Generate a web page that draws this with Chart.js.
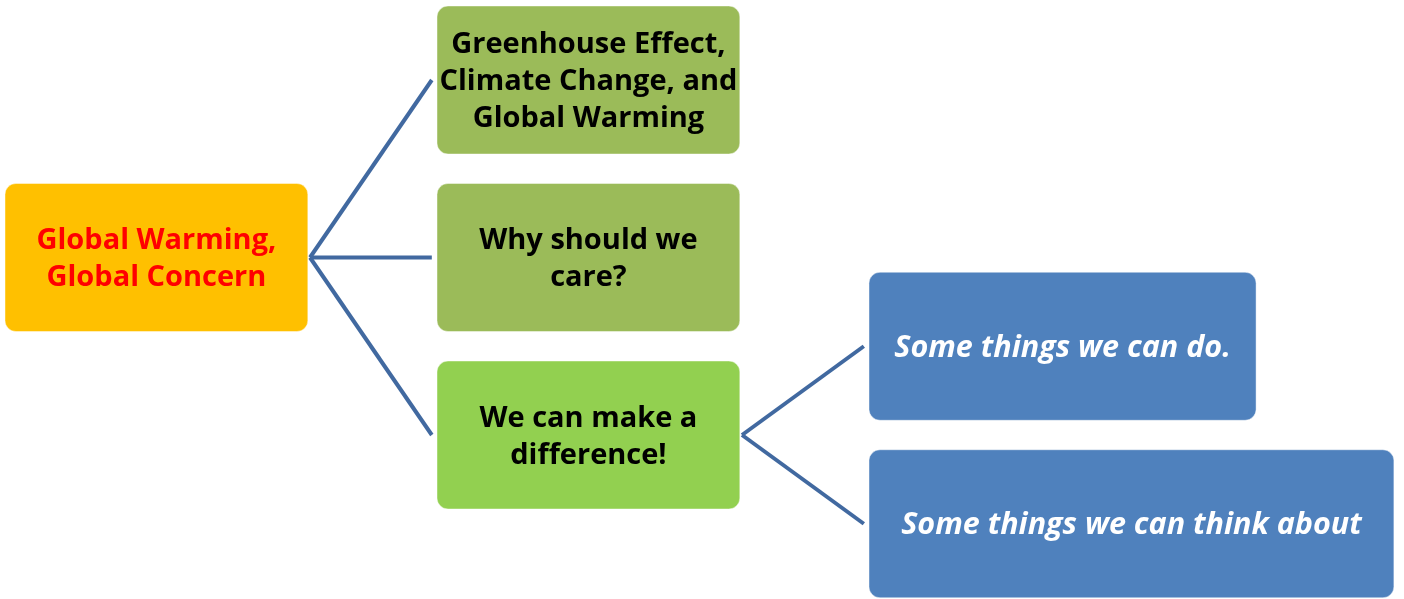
<!DOCTYPE html>
<html>
<head>
<meta charset="utf-8">
<script src="https://cdn.jsdelivr.net/npm/chart.js@4"></script>
<style>
    html, body { margin: 0; padding: 0; background: #ffffff; }
    #wrap { width: 1404px; height: 599px; }
</style>
</head>
<body>
<div id="wrap"><canvas id="TreeChart" width="1404" height="599"></canvas></div>
<script>
// Node data: text, column (level), row and parent
const nodeLabels = [
    ["Global Warming,", "Global Concern"],
    ["Greenhouse Effect,", "Climate Change, and", "Global Warming"],
    ["Why should we", "care?"],
    ["We can make a", "difference!"],
    ["Some things we can do."],
    ["Some things we can think about"],
];
const nodeLevel = [0, 1, 1, 1, 2, 2];
const nodeRow = [1, 0, 1, 2, 1.5, 2.5];
const nodeParent = [null, 0, 0, 0, 3, 3];

// Styles (kept apart from the data)
const Styles = {
    boxWidth: [0.701, 0.701, 0.701, 0.701, 0.896, 1.215], // in column units
    boxHalfHeight: 0.417,                                  // in row units
    fill: ["#FFC000", "#9BBB59", "#9BBB59", "#92D050", "#4F81BD", "#4F81BD"],
    text: ["#FF0000", "#000000", "#000000", "#000000", "#FFFFFF", "#FFFFFF"],
    italic: [false, false, false, false, true, true],
    fontSize: [29, 29, 29, 29, 30.5, 30.5],
    lineHeight: 37,
    textShift: 2,
    radius: 11,
    lineColor: "#4169A0",
    lineWidth: 4,
    apexGap: 0.005,
    endGap: 0.012,
};

// One line dataset per connector
function buildConnectors() {
    let sets = [];
    for (let i = 0; i < nodeLabels.length; i++) {
        let p = nodeParent[i];
        if (p === null)
            continue;
        sets.push({
            type: "line",
            data: [
                { x: nodeLevel[p] + Styles.boxWidth[p] + Styles.apexGap, y: nodeRow[p] },
                { x: nodeLevel[i] - Styles.endGap, y: nodeRow[i] },
            ],
            borderColor: Styles.lineColor,
            borderWidth: Styles.lineWidth,
            pointRadius: 0,
            showLine: true,
            borderCapStyle: "butt",
        });
    }
    return sets;
}

// Draws the boxes and their text through the chart scales
const boxPlugin = {
    id: "boxes",
    afterDatasetsDraw(chart) {
        const ctx = chart.ctx;
        const xs = chart.scales.x, ys = chart.scales.y;
        for (let i = 0; i < nodeLabels.length; i++) {
            let x0 = xs.getPixelForValue(nodeLevel[i]);
            let x1 = xs.getPixelForValue(nodeLevel[i] + Styles.boxWidth[i]);
            let y0 = ys.getPixelForValue(nodeRow[i] - Styles.boxHalfHeight);
            let y1 = ys.getPixelForValue(nodeRow[i] + Styles.boxHalfHeight);
            ctx.save();
            ctx.beginPath();
            ctx.roundRect(x0, y0, x1 - x0, y1 - y0, Styles.radius);
            ctx.fillStyle = Styles.fill[i];
            ctx.fill();
            ctx.lineWidth = 1;
            ctx.strokeStyle = "rgba(255,255,255,0.45)";
            ctx.stroke();

            ctx.fillStyle = Styles.text[i];
            ctx.font = (Styles.italic[i] ? "italic " : "") + "bold " + Styles.fontSize[i] + "px 'Open Sans', sans-serif";
            ctx.textAlign = "center";
            ctx.textBaseline = "middle";
            let lines = nodeLabels[i];
            let cx = (x0 + x1) / 2, cy = (y0 + y1) / 2 + Styles.textShift;
            let top = cy - (lines.length - 1) * Styles.lineHeight / 2;
            lines.forEach((t, k) => ctx.fillText(t, cx, top + k * Styles.lineHeight));
            ctx.restore();
        }
    }
};

new Chart(document.getElementById("TreeChart"), {
    type: "scatter",
    data: { datasets: buildConnectors() },
    options: {
        responsive: false,
        devicePixelRatio: 1,
        animation: false,
        layout: { padding: 0 },
        plugins: { legend: { display: false }, tooltip: { enabled: false } },
        scales: {
            x: { type: "linear", display: false, min: -0.01157, max: 3.2384 },
            y: { type: "linear", display: false, reverse: true, min: -0.4507, max: 2.9239 },
        },
    },
    plugins: [boxPlugin],
});
</script>
</body>
</html>
